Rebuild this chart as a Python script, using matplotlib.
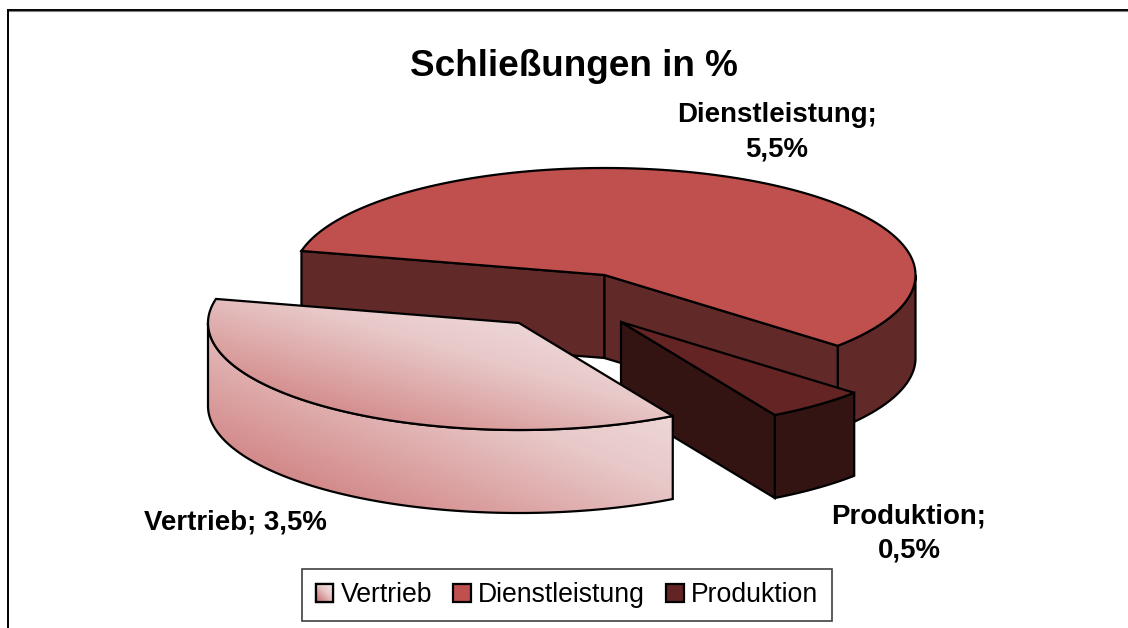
import numpy as np
import matplotlib
matplotlib.use("Agg")
import matplotlib.pyplot as plt
from matplotlib.patches import Polygon, Patch, Rectangle
from matplotlib.colors import LinearSegmentedColormap

plt.rcParams['font.family'] = ['Liberation Sans', 'DejaVu Sans']

# data
categories = ["Vertrieb", "Dienstleistung", "Produktion"]
values = [3.5, 5.5, 0.5]
value_labels = ["3,5%", "5,5%", "0,5%"]
title = "Schließungen in %"

# style / layout
W, H = 1128, 628
RX, RY, DEPTH = 311, 107, 83
START = 167.0            # where the first slice starts, degrees ccw on screen
centers = {"Vertrieb": (519, 323), "Dienstleistung": (604.5, 275), "Produktion": (621, 322)}
TOP_D = "#C0504D"
WALL_D = "#612A28"
TOP_P = "#632423"
WALL_P = "#341412"
EDGE = "black"
LW = 1.6
grad = LinearSegmentedColormap.from_list("g", ["#C66C6C", "#D99A9A", "#E8C8C8", "#F0DEDE"])

fig = plt.figure(figsize=(W / 100, H / 100), dpi=100, facecolor="white")
ax = fig.add_axes([0, 0, 1, 1])
ax.axis("off")

# slice angles from the values; drawn ccw on screen as Vertrieb, Produktion, Dienstleistung
total = sum(values)
v_s, v_e = START, START + values[0] / total * 360
p_s, p_e = v_e, v_e + values[2] / total * 360
d_s, d_e = p_e, p_e + values[1] / total * 360
angles = {"Vertrieb": (v_s, v_e), "Produktion": (p_s, p_e), "Dienstleistung": (d_s, d_e)}


def arc(cat, t0=None, t1=None):
    s, e = angles[cat]
    t0 = s if t0 is None else t0
    t1 = e if t1 is None else t1
    t = np.radians(np.linspace(t0, t1, 200))
    cx, cy = centers[cat]
    return np.column_stack([cx + RX * np.cos(t), cy - RY * np.sin(t)])


def pt(cat, ang):
    cx, cy = centers[cat]
    t = np.radians(ang)
    return np.array([cx + RX * np.cos(t), cy - RY * np.sin(t)])


def down(p):
    return np.asarray(p) + np.array([0, DEPTH])


def poly(points, fc, z, fill=True):
    p = Polygon(points, closed=True, facecolor=fc if fill else "none", edgecolor=EDGE,
                linewidth=LW, joinstyle="miter", zorder=z)
    ax.add_patch(p)
    return p


def wall(a_pts, fc, z, fill=True):
    return poly(np.vstack([a_pts, down(a_pts)[::-1]]), fc, z, fill)


def gradient_fill(points, z):
    pts = np.asarray(points)
    x0, y0 = pts.min(axis=0)
    x1, y1 = pts.max(axis=0)
    u, v = np.meshgrid(np.linspace(0, 1, 200), np.linspace(0, 1, 200))
    t = np.clip((u + (1 - v)) / 2 / 0.85, 0, 1)
    im = ax.imshow(t, extent=(x0, x1, y1, y0), cmap=grad, vmin=0, vmax=1,
                   aspect="auto", zorder=z, interpolation="bilinear")
    clip = Polygon(pts, closed=True, transform=ax.transData)
    im.set_clip_path(clip)
    poly(pts, "none", z + 0.1, fill=False)


# --- Dienstleistung (back)
cD = np.array(centers["Dienstleistung"], float)
rim_D = arc("Dienstleistung")
wall(arc("Dienstleistung", d_s, 360.0), WALL_D, 1)
wall(np.vstack([pt("Dienstleistung", d_e), cD]), WALL_D, 1.1)
wall(np.vstack([cD, pt("Dienstleistung", d_s)]), WALL_D, 1.1)
poly(np.vstack([cD, rim_D]), TOP_D, 1.2)

# --- Produktion
cP = np.array(centers["Produktion"], float)
wall(arc("Produktion"), WALL_P, 2)
wall(np.vstack([cP, pt("Produktion", p_s)]), WALL_P, 2.1)
poly(np.vstack([cP, arc("Produktion")]), TOP_P, 2.2)

# --- Vertrieb (front)
cV = np.array(centers["Vertrieb"], float)
rim_V = arc("Vertrieb")
side = arc("Vertrieb", 180.0, v_e)
gradient_fill(np.vstack([side, down(side)[::-1]]), 3)
gradient_fill(np.vstack([cV, rim_V]), 3.2)

# --- chart frame: top and left edges only
ax.plot([7, W], [9.5, 9.5], color="black", lw=1.4, zorder=4, solid_capstyle="butt")
ax.plot([7, W], [11, 11], color="#808080", lw=0.8, zorder=4, solid_capstyle="butt")
ax.plot([7.5, 7.5], [9, H], color="black", lw=1.4, zorder=4, solid_capstyle="butt")

# --- texts
ax.text(574, 66, title, fontsize=26.6, fontweight="bold", ha="center", va="center", zorder=7)
lab = dict(fontsize=19.9, fontweight="bold", ha="center", va="center", zorder=7)
ax.text(777, 132.5, f"{categories[1]};\n{value_labels[1]}", linespacing=1.42, **lab)
ax.text(235, 523, f"{categories[0]}; {value_labels[0]}", **lab)
ax.text(909, 533.5, f"{categories[2]};\n{value_labels[2]}", linespacing=1.42, **lab)

ax.set_xlim(0, W)
ax.set_ylim(H, 0)

# --- legend
handles = [Patch(facecolor="#EBCFCF", edgecolor="black", linewidth=1.6),
           Patch(facecolor=TOP_D, edgecolor="black", linewidth=1.6),
           Patch(facecolor=TOP_P, edgecolor="black", linewidth=1.6)]
leg = ax.legend(handles, categories, ncol=3, loc="center", bbox_to_anchor=(567 / W, 1 - 595 / H),
                bbox_transform=ax.transAxes, fontsize=19.2, frameon=True, fancybox=False,
                framealpha=1, facecolor="white", edgecolor="#404040",
                handlelength=0.66, handleheight=0.66, handletextpad=0.27, columnspacing=0.8,
                borderpad=0.5, borderaxespad=0)
leg.get_frame().set_linewidth(1.2)
leg.set_zorder(8)

fig.canvas.draw()
inv = ax.transData.inverted()
bb = leg.get_patches()[0].get_window_extent()
(x0, y1), (x1, y0) = inv.transform([(bb.x0, bb.y0), (bb.x1, bb.y1)])
u, v = np.meshgrid(np.linspace(0, 1, 30), np.linspace(0, 1, 30))
ax.imshow(np.clip((u + (1 - v)) / 2 / 0.85, 0, 1), extent=(x0, x1, y1, y0), cmap=grad, vmin=0, vmax=1,
          aspect="auto", zorder=9)
ax.add_patch(Rectangle((x0, y0), x1 - x0, y1 - y0, fill=False, edgecolor="black", lw=1.6, zorder=9.1))
ax.set_xlim(0, W)
ax.set_ylim(H, 0)

fig.savefig("out.png", dpi=100, facecolor="white")
